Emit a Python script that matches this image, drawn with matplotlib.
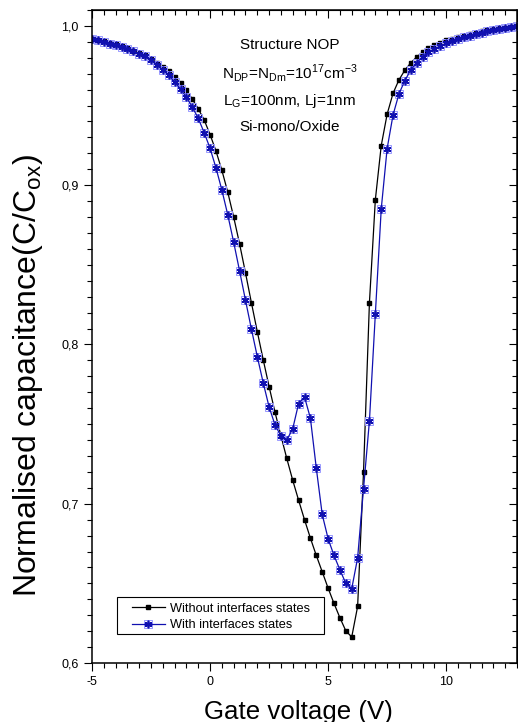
import numpy as np
import matplotlib
matplotlib.use("Agg")
import matplotlib.pyplot as plt
from matplotlib.ticker import MultipleLocator, FuncFormatter
from matplotlib.legend_handler import HandlerTuple
from matplotlib.patches import Rectangle

plt.rcParams['font.family'] = ['Liberation Sans', 'DejaVu Sans']
plt.rcParams['axes.unicode_minus'] = False

# gate voltage grid (V), step 0.25
vg = np.arange(-5, 13.01, 0.25)

c_without = [0.9918, 0.9912, 0.9903, 0.9894, 0.9885, 0.9874, 0.9860, 0.9845, 0.9830,
             0.9816, 0.9793, 0.9770, 0.9745, 0.9715, 0.9680, 0.9642, 0.9596, 0.9540,
             0.9480, 0.9410, 0.9318, 0.9215, 0.9094, 0.8956, 0.8800, 0.8632, 0.8450,
             0.8263, 0.8081, 0.7905, 0.7736, 0.7575, 0.7428, 0.7284, 0.7148, 0.7022,
             0.6900, 0.6784, 0.6675, 0.6573, 0.6470, 0.6374, 0.6284, 0.6202, 0.6163,
             0.6355, 0.7200, 0.8263, 0.8908, 0.9249, 0.9446, 0.9577, 0.9661, 0.9722,
             0.9768, 0.9805, 0.9835, 0.9860, 0.9879, 0.9895, 0.9910, 0.9918, 0.9929,
             0.9939, 0.9950, 0.9958, 0.9967, 0.9973, 0.9979, 0.9985, 0.9990, 0.9995,
             1.0000]

c_with = [0.9918, 0.9910, 0.9900, 0.9889, 0.9879, 0.9868, 0.9856, 0.9841, 0.9826,
          0.9810, 0.9787, 0.9757, 0.9724, 0.9690, 0.9648, 0.9604, 0.9552, 0.9490,
          0.9420, 0.9330, 0.9232, 0.9109, 0.8970, 0.8814, 0.8642, 0.8462, 0.8278,
          0.8098, 0.7924, 0.7760, 0.7608, 0.7495, 0.7426, 0.7400, 0.7470, 0.7629,
          0.7671, 0.7537, 0.7223, 0.6933, 0.6780, 0.6675, 0.6585, 0.6500, 0.6466,
          0.6660, 0.7095, 0.7520, 0.8190, 0.8851, 0.9230, 0.9441, 0.9573, 0.9657,
          0.9723, 0.9770, 0.9805, 0.9834, 0.9857, 0.9872, 0.9891, 0.9904, 0.9916,
          0.9929, 0.9939, 0.9950, 0.9958, 0.9967, 0.9973, 0.9979, 0.9985, 0.9992,
          0.9997]

fig = plt.figure(figsize=(5.18, 7.22), dpi=100)
ax = fig.add_axes([92/518, 1 - 663/722, 425/518, 653/722])

blue = '#1010b0'
l1, = ax.plot(vg, c_without, '-', color='black', lw=0.9,
              marker='s', ms=3.4, mfc='black', mec='black')
sq, = ax.plot(vg, c_with, ls='none', marker='s', ms=5.5, mfc='none',
              mec='#9a9aff', mew=0.7)
l2, = ax.plot(vg, c_with, '-', color=blue, lw=0.9,
              marker=(6, 2, 0), ms=5.5, mec=blue, mew=1.2)

ax.set_xlim(-5, 13)
ax.set_ylim(0.6, 1.01)
ax.xaxis.set_major_locator(MultipleLocator(5))
ax.xaxis.set_minor_locator(MultipleLocator(0.5))
ax.yaxis.set_major_locator(MultipleLocator(0.1))
ax.yaxis.set_minor_locator(MultipleLocator(0.01))
ax.yaxis.set_major_formatter(FuncFormatter(lambda v, p: f"{v:.1f}".replace('.', ',')))

for s in ax.spines.values():
    s.set_linewidth(1.1)
ax.tick_params(which='both', direction='out', top=False, right=False,
               labelsize=9, width=0.8)
ax.tick_params(which='major', length=6)
ax.tick_params(which='minor', length=3.5)

# mirrored inner ticks on top and right
axt = ax.secondary_xaxis('top')
axt.xaxis.set_major_locator(MultipleLocator(5))
axt.xaxis.set_minor_locator(MultipleLocator(0.5))
axt.tick_params(which='both', direction='in', labeltop=False, width=0.8)
axt.tick_params(which='major', length=6)
axt.tick_params(which='minor', length=3.5)
axr = ax.secondary_yaxis('right')
axr.yaxis.set_major_locator(MultipleLocator(0.1))
axr.yaxis.set_minor_locator(MultipleLocator(0.01))
axr.tick_params(which='both', direction='in', labelright=False, width=0.8)
axr.tick_params(which='major', length=6)
axr.tick_params(which='minor', length=3.5)

ax.set_xlabel('Gate voltage (V)', fontsize=18.6)
ax.xaxis.set_label_coords(0.485, -0.056)
ax.set_ylabel('Normalised capacitance(C/C$_{\\mathregular{ox}}$)', fontsize=23)
ax.yaxis.set_label_coords(-0.11, 0.44)

ax.text(0.465, 0.94, 'Structure NOP', transform=ax.transAxes, ha='center', fontsize=11)
ax.text(0.465, 0.895, 'N$_{\\mathregular{DP}}$=N$_{\\mathregular{Dm}}$=10$^{\\mathregular{17}}$cm$^{\\mathregular{-3}}$',
        transform=ax.transAxes, ha='center', fontsize=11)
ax.text(0.465, 0.855, 'L$_{\\mathregular{G}}$=100nm, Lj=1nm', transform=ax.transAxes,
        ha='center', fontsize=11)
ax.text(0.465, 0.815, 'Si-mono/Oxide', transform=ax.transAxes, ha='center', fontsize=11)

leg = ax.legend([l1, (sq, l2)], ['Without interfaces states', 'With interfaces states'],
                handler_map={tuple: HandlerTuple(ndivide=1, pad=0)},
                loc='lower left', bbox_to_anchor=(0.094, 0.049), fontsize=9.2,
                frameon=False, handlelength=2.56, handletextpad=0.4, borderpad=0,
                labelspacing=0.35, borderaxespad=0)
ax.add_patch(Rectangle((0.0588, 0.0444), 0.4872, 0.0566, transform=ax.transAxes,
                       fill=False, edgecolor='black', lw=0.8, zorder=5))

fig.savefig('out.png', dpi=100)
